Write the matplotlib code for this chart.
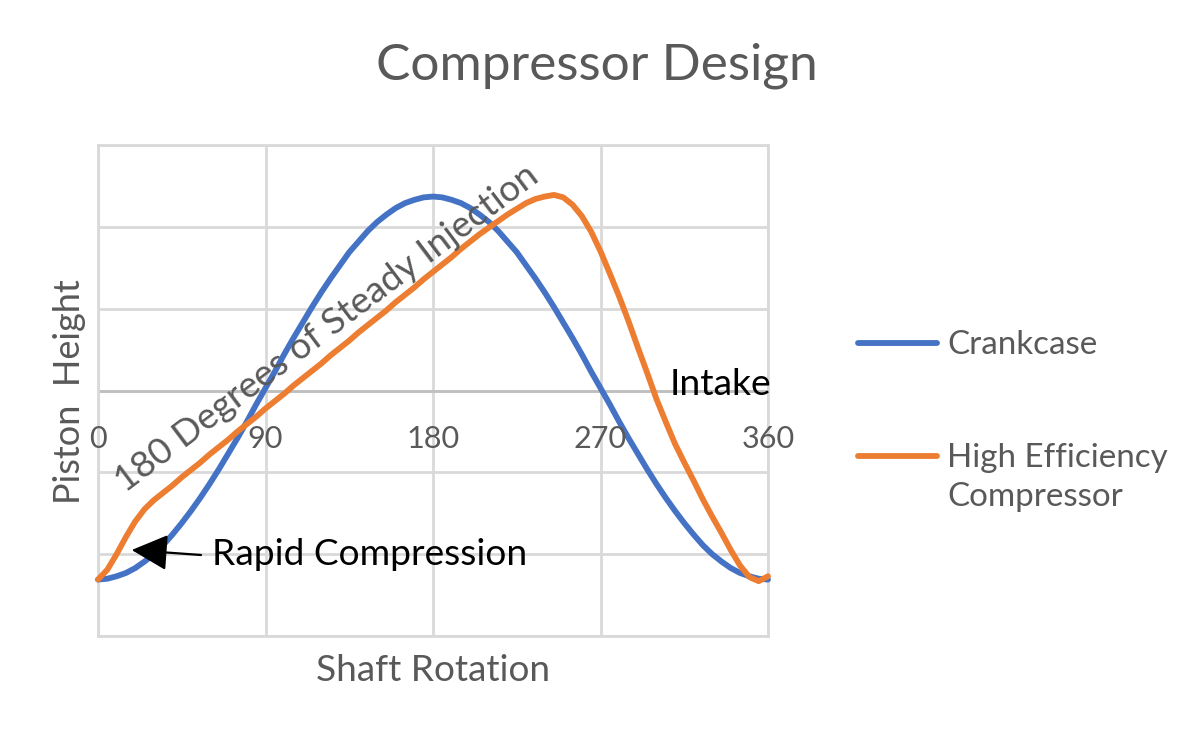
import matplotlib
matplotlib.use("Agg")
import matplotlib.pyplot as plt
from matplotlib.lines import Line2D

plt.rcParams['font.family'] = ['Lato', 'DejaVu Sans']

# ---------------- data ----------------
angles_crankcase = list(range(0, 361, 5))
crankcase = [-2.31, -2.30, -2.27, -2.23, -2.17, -2.09, -2.00, -1.89, -1.76, -1.62, -1.47, -1.31, -1.14,
             -0.96, -0.77, -0.58, -0.38, -0.17, 0.03, 0.23, 0.44, 0.64, 0.83, 1.02, 1.20, 1.37, 1.53,
             1.69, 1.82, 1.95, 2.06, 2.15, 2.23, 2.29, 2.33, 2.36, 2.37, 2.36, 2.33, 2.29, 2.23, 2.15,
             2.06, 1.95, 1.82, 1.69, 1.53, 1.37, 1.20, 1.02, 0.83, 0.64, 0.44, 0.23, 0.03, -0.17, -0.38,
             -0.58, -0.77, -0.96, -1.14, -1.31, -1.47, -1.62, -1.76, -1.89, -2.00, -2.09, -2.17, -2.23,
             -2.27, -2.30, -2.31]

angles_compressor = list(range(0, 361, 5))
compressor = [-2.31, -2.19, -2.00, -1.79, -1.60, -1.45, -1.34, -1.25, -1.16, -1.06, -0.97, -0.88, -0.78,
              -0.69, -0.60, -0.50, -0.41, -0.32, -0.22, -0.13, -0.04, 0.06, 0.15, 0.24, 0.33, 0.43, 0.52,
              0.61, 0.71, 0.80, 0.89, 0.98, 1.08, 1.17, 1.26, 1.36, 1.45, 1.54, 1.63, 1.73, 1.82, 1.91,
              1.99, 2.07, 2.15, 2.22, 2.29, 2.34, 2.37, 2.39, 2.36, 2.27, 2.13, 1.94, 1.70, 1.43, 1.15,
              0.85, 0.53, 0.22, -0.10, -0.38, -0.65, -0.88, -1.10, -1.33, -1.54, -1.74, -1.95, -2.14,
              -2.28, -2.33, -2.27]

x_ticks = [0, 90, 180, 270, 360]
x_tick_labels = ["0", "90", "180", "270", "360"]
series_names = ["Crankcase", "High Efficiency\nCompressor"]

title = "Compressor Design"
x_title = "Shaft Rotation"
y_title = "Piston  Height"
note_injection = "180 Degrees of Steady Injection"
note_rapid = "Rapid Compression"
note_intake = "Intake"

BLUE = "#4472C4"
ORANGE = "#ED7D31"
GRAY = "#595959"
GRID = "#D9D9D9"

W, H = 1195, 739
fig = plt.figure(figsize=(W / 100, H / 100), dpi=100)
fig.patch.set_facecolor("white")


def fx(px):
    return px / W


def fy(py):
    return 1 - py / H


# plot area
L, R, T, B = 98, 768, 145, 636
ax = fig.add_axes([fx(L), fy(B), (R - L) / W, (B - T) / H])
ax.set_xlim(0, 360)
ax.set_ylim(-3, 3)
ax.set_xticks(x_ticks)
ax.set_yticks(range(-3, 4))
ax.tick_params(length=0, labelbottom=False, labelleft=False)
ax.grid(True, color=GRID, lw=2)
ax.set_axisbelow(True)
for s in ax.spines.values():
    s.set_color(GRID)
    s.set_linewidth(2)
ax.axhline(0, color="#BFBFBF", lw=2, zorder=1.5)

LW = 4.2
ax.plot(angles_crankcase, crankcase, color=BLUE, lw=LW, zorder=3, clip_on=False,
        solid_capstyle='round', solid_joinstyle='round')
ax.plot(angles_compressor, compressor, color=ORANGE, lw=LW, zorder=3.1, clip_on=False,
        solid_capstyle='round', solid_joinstyle='round')

renderer = fig.canvas.get_renderer()


def fit(t, target):
    rot = t.get_rotation()
    t.set_rotation(0)
    w = t.get_window_extent(renderer).width
    t.set_fontsize(t.get_fontsize() * target / w)
    t.set_rotation(rot)
    return t


# tick labels
tick_texts = []
for xt, lab in zip(x_ticks, x_tick_labels):
    t = ax.text(xt, 0, lab, transform=ax.get_xaxis_transform(), color=GRAY, fontsize=25,
                ha='center', va='baseline')
    t.set_y((B - 448.5) / (B - T))
    tick_texts.append(t)
w180 = tick_texts[2].get_window_extent(renderer).width
for t in tick_texts:
    t.set_fontsize(t.get_fontsize() * 53.3 / w180)

# title
fit(fig.text(fx(597), fy(79.3), title, color=GRAY, fontsize=41, ha='center', va='baseline'), 442)

# axis titles
fit(fig.text(fx(433), fy(681), x_title, color=GRAY, fontsize=29, ha='center', va='baseline'), 235)
fit(fig.text(fx(70), fy(392), y_title, color=GRAY, fontsize=29, ha='center', va='center',
             rotation=90, rotation_mode='anchor'), 225)

# legend (manual)
leg_items = [(343, 354, [series_names[0]], BLUE),
             (456, 467, series_names[1].split("\n"), ORANGE)]
leg_fs = None
for ly, base, lines, col in leg_items:
    fig.add_artist(Line2D([fx(858), fx(937)], [fy(ly), fy(ly)], color=col, lw=LW,
                          solid_capstyle='round', transform=fig.transFigure))
    for i, ln in enumerate(lines):
        t = fig.text(fx(947), fy(base + i * 38.5), ln, color=GRAY, fontsize=25.5, ha='left', va='baseline')
        if leg_fs is None:
            fit(t, 150)
            leg_fs = t.get_fontsize()
        else:
            t.set_fontsize(leg_fs)

# annotations
def px2data(px, py):
    return (px - L) / (R - L) * 360, 3 - (py - T) / (B - T) * 6


t = ax.text(*px2data(327, 328), note_injection, color=GRAY, fontsize=29, ha='center', va='center',
            rotation=37, rotation_mode='anchor', zorder=5)
fit(t, 520)

fit(ax.text(*px2data(212, 565), note_rapid, color="black", fontsize=29, ha='left', va='baseline', zorder=5), 315)
fit(ax.text(*px2data(670, 395), note_intake, color="black", fontsize=29, ha='left', va='baseline', zorder=5), 102)

ax.annotate("", xy=px2data(131.7, 550), xytext=px2data(201, 555),
            arrowprops=dict(arrowstyle='-|>,head_length=0.9,head_width=0.45', color='black', lw=1.6,
                            shrinkA=0, shrinkB=0, mutation_scale=25), zorder=5)

fig.savefig("out.png", dpi=100, facecolor="white")
